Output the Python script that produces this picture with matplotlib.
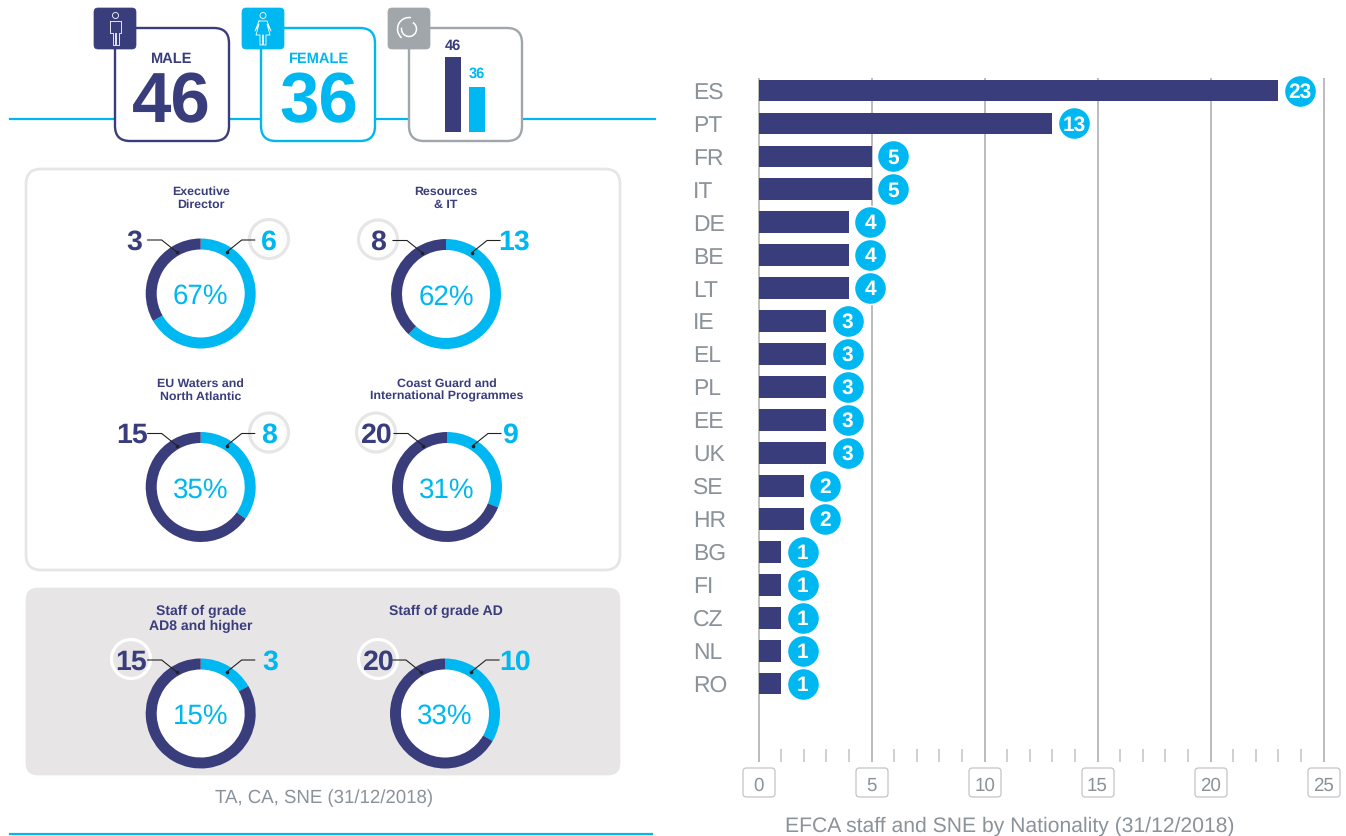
import matplotlib
matplotlib.use("Agg")
import matplotlib.pyplot as plt
from matplotlib.patches import FancyBboxPatch, Circle, Arc
from matplotlib.ticker import MultipleLocator
from matplotlib.transforms import ScaledTranslation

plt.rcParams['font.family'] = ['Liberation Sans', 'DejaVu Sans']
plt.rcParams['text.hinting'] = 'no_hinting'

# data
countries = ["ES", "PT", "FR", "IT", "DE", "BE", "LT", "IE", "EL", "PL", "EE", "UK", "SE", "HR", "BG", "FI", "CZ", "NL", "RO"]
staff = [23, 13, 5, 5, 4, 4, 4, 3, 3, 3, 3, 3, 2, 2, 1, 1, 1, 1, 1]
x_major = [0, 5, 10, 15, 20, 25]

gender_labels = ["MALE", "FEMALE"]
gender_counts = [46, 36]

unit_titles = ["Executive\nDirector", "Resources\n& IT", "EU Waters and\nNorth Atlantic",
               "Coast Guard and\nInternational Programmes", "Staff of grade\nAD8 and higher", "Staff of grade AD"]
unit_male = [3, 8, 15, 20, 15, 20]
unit_female = [6, 13, 8, 9, 3, 10]
unit_pct = ["67%", "62%", "35%", "31%", "15%", "33%"]

DARK = "#3a3d7c"
CYAN = "#00b8f1"
GREY = "#a0a6aa"
TEXT = "#8a929a"
W, H = 1346, 836

fig = plt.figure(figsize=(W / 100, H / 100), dpi=100)


def px_axes(x0, y0, x1, y1, zorder=1):
    ax = fig.add_axes([x0 / W, 1 - y1 / H, (x1 - x0) / W, (y1 - y0) / H], zorder=zorder)
    ax.patch.set_alpha(0)
    return ax


def pixel_layer(zorder):
    ax = px_axes(0, 0, W, H, zorder)
    ax.set_xlim(0, W)
    ax.set_ylim(H, 0)
    ax.axis("off")
    return ax


def round_box(ax, x0, y0, x1, y1, r, fc, ec, lw, z=2):
    ax.add_patch(FancyBboxPatch((x0 + r, y0 + r), x1 - x0 - 2 * r, y1 - y0 - 2 * r,
                                boxstyle="round,pad=%f,rounding_size=%f" % (r, r),
                                fc=fc, ec=ec, lw=lw, zorder=z))


bg = pixel_layer(0)
fg = pixel_layer(5)

# rules behind the cards
bg.plot([10, 655], [118.5, 118.5], color=CYAN, lw=1.6, zorder=1)
bg.plot([10, 652], [834, 834], color=CYAN, lw=1.6, zorder=1)

# top cards
round_box(bg, 115, 28, 229, 141, 15, "white", DARK, 1.7)
round_box(bg, 261, 28, 375, 141, 15, "white", CYAN, 1.7)
round_box(bg, 409, 28, 522, 141, 15, "white", GREY, 1.7)
round_box(bg, 94, 8, 136, 49, 4, DARK, DARK, 0.5, 3)
round_box(bg, 242, 8, 284, 49, 4, CYAN, CYAN, 0.5, 3)
round_box(bg, 388, 8, 430, 49, 4, GREY, GREY, 0.5, 3)

# male icon
bg.add_patch(Circle((115.5, 15.5), 3, fc="none", ec="white", lw=0.6, zorder=4))
bg.plot([110, 121, 121, 118.5, 118.5, 116, 116, 115, 115, 112.5, 112.5, 110, 110],
        [21, 21, 33, 33, 45, 45, 33, 33, 45, 45, 33, 33, 21], color="white", lw=0.6, zorder=4)
# female icon
bg.add_patch(Circle((263, 15.5), 3, fc="none", ec="white", lw=0.6, zorder=4))
bg.plot([259, 267, 271, 267, 270, 266, 266, 263.5, 263.5, 262.5, 262.5, 260, 260, 256, 259, 255, 259],
        [21, 21, 31, 24, 35, 35, 45, 45, 35, 35, 45, 45, 35, 35, 24, 31, 21], color="white", lw=0.6, zorder=4)
# grey icon
bg.add_patch(Arc((409, 29), 23, 23, theta1=130, theta2=280, ec="white", lw=1.1, zorder=4))
bg.add_patch(Arc((409, 29), 15, 15, theta1=300, theta2=190, ec="white", lw=1.1, zorder=4))

# gender numbers
card_x = [171, 318.5]
card_col = [DARK, CYAN]
for i in range(2):
    fg.text(card_x[i], 59, gender_labels[i], color=card_col[i], fontsize=10.5, fontweight="bold", ha="center", va="center")
    fg.text(card_x[i], 104, str(gender_counts[i]), color=card_col[i], fontsize=51, fontweight="bold", ha="center", va="center")

# small bars in the third card
mini = px_axes(445, 57, 485, 132, 3)
mini.bar([0, 1], gender_counts, width=0.667, color=[DARK, CYAN])
mini.set_xlim(-0.333, 1.333)
mini.set_ylim(21, 46)
mini.axis("off")
fg.text(453, 45.5, str(gender_counts[0]), color=DARK, fontsize=10.5, fontweight="bold", ha="center", va="center")
fg.text(477, 73.5, str(gender_counts[1]), color=CYAN, fontsize=10.5, fontweight="bold", ha="center", va="center")

# panels
round_box(bg, 26, 169, 620, 570, 15, "white", "#e6e6e6", 2)
round_box(bg, 26, 588, 620, 775, 12, "#e7e5e6", "#e7e5e6", 0.5)

# donuts
centres = [(200.7, 293.5), (446, 294), (200.7, 487), (447, 487), (200.7, 713.5), (445, 713.5)]
title_y = [198, 198, 390, 390, 619, 611]
male_x = [134, 378, 132, 376, 131, 378]
female_x = [269, 514, 269, 510, 270, 515]
ring_on = ["female", "male", "female", "male", "male", "male"]
ring_col = ["#e6e6e6", "#e6e6e6", "#e6e6e6", "#e6e6e6", "white", "white"]
R = 55

for i, (cx, cy) in enumerate(centres):
    ax = px_axes(cx - R - 1, cy - R - 1, cx + R + 1, cy + R + 1, 3)
    ax.add_patch(Circle((0, 0), 0.82, fc="white", ec="none", zorder=0))
    ax.pie([unit_female[i], unit_male[i]], colors=[CYAN, DARK], startangle=90, counterclock=False,
           radius=1, wedgeprops=dict(width=0.2, linewidth=0))
    ax.set_xlim(-56 / 55, 56 / 55)
    ax.set_ylim(-56 / 55, 56 / 55)

    fg.text(cx + (0 if i != 5 else 1), title_y[i], unit_titles[i], color=DARK, fontsize=10.1 if i > 3 else 8.9,
            fontweight="bold", ha="center", va="center", linespacing=1.25)
    fg.text(cx, cy + 3, unit_pct[i], color=CYAN, fontsize=20, ha="center", va="center")

    ly = cy - 53.5
    fg.text(male_x[i], ly + 2, str(unit_male[i]), color=DARK, fontsize=20.5, fontweight="bold", ha="center", va="center")
    fg.text(female_x[i], ly + 2, str(unit_female[i]), color=CYAN, fontsize=20.5, fontweight="bold", ha="center", va="center")

    rx = female_x[i] if ring_on[i] == "female" else male_x[i]
    bg.add_patch(Circle((rx, ly - 1), 19.5, fc="none", ec=ring_col[i], lw=2.3, zorder=3))

    # leaders
    fg.plot([cx - 53, cx - 39, cx - 24], [ly, ly, ly + 12], color="#222222", lw=0.8)
    fg.plot([cx + 54, cx + 41, cx + 26], [ly, ly, ly + 12], color="#222222", lw=0.8)
    fg.plot([cx - 24, cx + 26], [ly + 12, ly + 12], ls="none", marker="o", ms=1.6, color="#222222")

fg.text(324.5, 798, "TA, CA, SNE (31/12/2018)", color=TEXT, fontsize=13.4, ha="center", va="center")

# nationality bars
scale = (1323 - 758) / 25
pad = 0.5
chart = px_axes(758.5 - pad * scale, 78, 1323.5 + pad * scale, 762, 2)
ypos = list(range(len(countries)))
chart.barh(ypos, staff, height=0.66, color=DARK, zorder=3)
chart.set_xlim(-pad, 25 + pad)
chart.set_ylim(20.38, -0.38)
chart.set_yticks(ypos)
chart.set_yticklabels(countries, ha="left", color=TEXT, fontsize=16.5)
nudge = ScaledTranslation(0, -1.5 / 72, fig.dpi_scale_trans)
for lab in chart.get_yticklabels():
    lab.set_transform(lab.get_transform() + nudge)
chart.set_xticks(x_major)
chart.set_xticklabels([str(v) for v in x_major], color=TEXT, fontsize=13.5)
chart.xaxis.set_minor_locator(MultipleLocator(1))
chart.tick_params(axis="y", length=0, pad=38.9)
chart.tick_params(axis="x", which="major", length=0, pad=11)
chart.tick_params(axis="x", which="minor", direction="in", length=9.4, width=1.1, color="#c4c4c4")
chart.grid(axis="x", which="major", color="#bcbcbc", lw=1.4)
chart.set_axisbelow(True)
for s in chart.spines.values():
    s.set_visible(False)

gap = 21.5 / scale
chart.scatter([v + gap for v in staff], ypos, s=530, color=CYAN, edgecolor="white", linewidth=1, zorder=4, clip_on=False)
for v, y in zip(staff, ypos):
    chart.text(v + gap, y + 0.05, str(v), color="white", fontsize=15, fontweight="bold", ha="center", va="center", zorder=5)

# boxes round the x tick labels
for v in x_major:
    x = 759 + v * scale
    round_box(bg, x - 16, 768, x + 16, 797, 3.5, "white", "#c4c4c4", 0.9)

fg.text(1010, 826.5, "EFCA staff and SNE by Nationality (31/12/2018)", color=TEXT, fontsize=15.2, ha="center", va="center")

fig.savefig("out.png", dpi=100)
